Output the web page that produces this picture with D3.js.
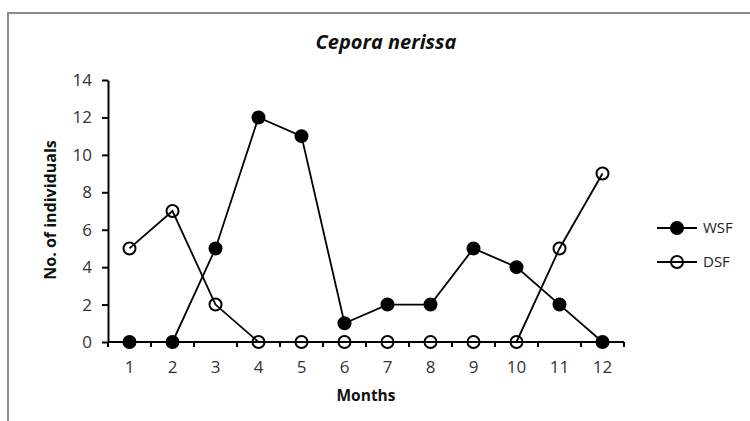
<!DOCTYPE html>
<html>
<head>
<meta charset="utf-8">
<script src="https://cdn.jsdelivr.net/npm/d3@7"></script>
<style>
  body { margin: 0; background: #fff; }
  text { font-family: "Open Sans", "Noto Sans", sans-serif; }
</style>
</head>
<body>
<div id="chart"></div>
<script>
// Monthly counts of Cepora nerissa
const months = [1, 2, 3, 4, 5, 6, 7, 8, 9, 10, 11, 12];
const wsf = [0, 0, 5, 12, 11, 1, 2, 2, 5, 4, 2, 0];
const dsf = [5, 7, 2, 0, 0, 0, 0, 0, 0, 0, 5, 9];
const yTicks = [0, 2, 4, 6, 8, 10, 12, 14];

const width = 750;
const height = 421;
const m = { top: 80, right: 126, bottom: 79, left: 108 };

const svg = d3.select("#chart").append("svg")
    .attr("width", width)
    .attr("height", height);

// outer frame (only top and left edges show in the picture)
svg.append("path")
    .attr("d", `M8,${height} L8,13 L${width},13`)
    .attr("fill", "none")
    .attr("stroke", "#8a8a8a")
    .attr("stroke-width", 2);

const x = d3.scaleBand()
    .domain(months)
    .range([m.left, width - m.right]);

const y = d3.scaleLinear()
    .domain([0, 14])
    .range([height - m.bottom, m.top]);

// Title
svg.append("text")
    .attr("x", 386)
    .attr("y", 49)
    .attr("text-anchor", "middle")
    .attr("font-size", "20px")
    .attr("font-weight", "bold")
    .attr("font-style", "italic")
    .attr("fill", "#111")
    .text("Cepora nerissa");

// Y axis
const yAxis = svg.append("g")
    .attr("transform", `translate(${m.left},0)`)
    .call(d3.axisLeft(y).tickValues(yTicks).tickSize(6).tickPadding(10).tickSizeOuter(0));
yAxis.select(".domain").attr("stroke-width", 2);
yAxis.selectAll(".tick line").attr("stroke-width", 2);
yAxis.selectAll(".tick text").attr("font-size", "17px").attr("fill", "#333")
    .attr("font-family", "'Open Sans', sans-serif");

// X axis: ticks sit between the months, labels under the centres
const xAxis = svg.append("g")
    .attr("transform", `translate(0,${y(0)})`);
xAxis.append("line")
    .attr("x1", m.left).attr("x2", width - m.right)
    .attr("stroke", "#000").attr("stroke-width", 2);
const edges = months.map(d => x(d)).concat([x(months[months.length - 1]) + x.bandwidth()]);
xAxis.selectAll(".xtick").data(edges).enter().append("line")
    .attr("class", "xtick")
    .attr("x1", d => d).attr("x2", d => d)
    .attr("y1", 0).attr("y2", 5)
    .attr("stroke", "#000").attr("stroke-width", 2);
xAxis.selectAll(".xlab").data(months).enter().append("text")
    .attr("class", "xlab")
    .attr("x", d => x(d) + x.bandwidth() / 2)
    .attr("y", 31)
    .attr("text-anchor", "middle")
    .attr("font-size", "17px")
    .attr("fill", "#333")
    .text(d => d);

// Axis titles
svg.append("text")
    .attr("x", 366)
    .attr("y", 401)
    .attr("text-anchor", "middle")
    .attr("font-size", "15.5px")
    .attr("font-weight", "bold")
    .attr("fill", "#111")
    .text("Months");

svg.append("text")
    .attr("transform", "translate(56,210) rotate(-90)")
    .attr("text-anchor", "middle")
    .attr("font-size", "16px")
    .attr("font-weight", "bold")
    .attr("fill", "#111")
    .text("No. of individuals");

const cx = d => x(d) + x.bandwidth() / 2;
const line = d3.line()
    .x((d, i) => cx(months[i]))
    .y(d => y(d));

const series = [
    { name: "WSF", values: wsf, fill: "#000", ly: 228 },
    { name: "DSF", values: dsf, fill: "none", ly: 262 }
];

series.forEach(s => {
    svg.append("path")
        .datum(s.values)
        .attr("d", line)
        .attr("fill", "none")
        .attr("stroke", "#000")
        .attr("stroke-width", 1.8);

    svg.selectAll(".pt-" + s.name)
        .data(s.values)
        .enter().append("circle")
        .attr("class", "pt-" + s.name)
        .attr("cx", (d, i) => cx(months[i]))
        .attr("cy", d => y(d))
        .attr("r", 6)
        .attr("fill", s.fill)
        .attr("stroke", "#000")
        .attr("stroke-width", 2);

    // legend entry
    const lg = svg.append("g").attr("transform", `translate(657,${s.ly})`);
    lg.append("line").attr("x1", 0).attr("x2", 40)
        .attr("stroke", "#000").attr("stroke-width", 1.8);
    lg.append("circle").attr("cx", 20).attr("r", 6)
        .attr("fill", s.fill).attr("stroke", "#000").attr("stroke-width", 2);
    lg.append("text").attr("x", 46).attr("dy", "0.35em")
        .attr("font-size", "15px").attr("fill", "#222")
        .text(s.name);
});
</script>
</body>
</html>
